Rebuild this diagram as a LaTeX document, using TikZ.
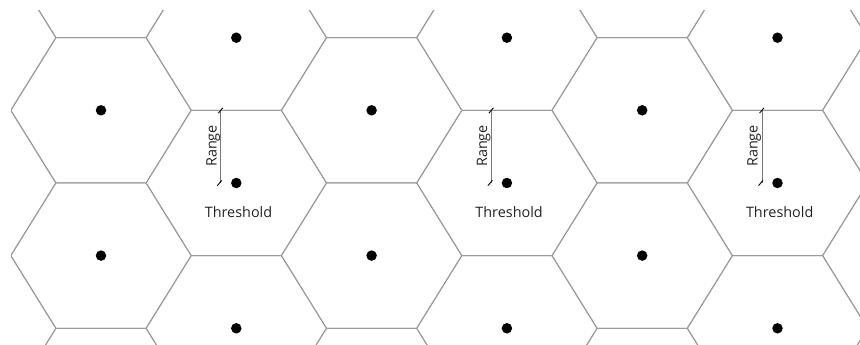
\documentclass[tikz,border=0pt]{standalone}
\usepackage{fontspec}
\setmainfont{Open Sans}
\definecolor{hexgray}{RGB}{155,155,155}
\definecolor{rangegray}{RGB}{120,120,120}
\definecolor{textgray}{RGB}{35,35,35}
\begin{document}
\begin{tikzpicture}[x=1pt,y=-1pt,
  hexline/.style={draw=hexgray, line width=1pt, line join=miter},
  celldot/.style={circle, fill=black, inner sep=0pt, minimum size=10.5pt},
  rangeline/.style={draw=rangegray, line width=0.8pt},
  tickmark/.style={draw=black, line width=0.9pt},
  lbl/.style={font=\fontsize{14.4}{16}\selectfont, text=textgray, inner sep=0pt}]
\useasboundingbox (0,0) rectangle (860,345);
\begin{scope}
  \clip (11,11) rectangle (860,345);
  \foreach \k in {-1,...,6}{
    \pgfmathsetmacro\cx{101+135.3*\k}
    \pgfmathsetmacro\yo{ifthenelse(mod(\k+2,2)==1,37.7,110.3)}
    \foreach \j in {-1,...,2}{
      \pgfmathsetmacro\cy{\yo+145.3*\j}
      \draw[hexline] (\cx-90.2,\cy) -- (\cx-45.1,\cy-72.65) -- (\cx+45.1,\cy-72.65)
        -- (\cx+90.2,\cy) -- (\cx+45.1,\cy+72.65) -- (\cx-45.1,\cy+72.65) -- cycle;
    }
  }
\end{scope}
% dots at cell centres
\foreach \k in {0,2,4}{
  \pgfmathsetmacro\cx{101+135.3*\k}
  \node[celldot] (dot-\k-a) at (\cx,110.3) {};
  \node[celldot] (dot-\k-b) at (\cx,255.6) {};
}
\foreach \k in {1,3,5}{
  \pgfmathsetmacro\cx{101+135.3*\k}
  \node[celldot] (dot-\k-a) at (\cx,37.7) {};
  \node[celldot] (dot-\k-b) at (\cx,183) {};
  \node[celldot] (dot-\k-c) at (\cx,328.3) {};
  % range indicator
  \coordinate (rtop\k) at (\cx-15.5,110.5);
  \coordinate (rbot\k) at (\cx-15.5,183);
  \draw[rangeline] (rtop\k) -- (rbot\k);
  \draw[tickmark] ([shift={(-2.5,2.7)}]rtop\k) -- ([shift={(2,-2.7)}]rtop\k);
  \draw[tickmark] ([shift={(-3.5,2.7)}]rbot\k) -- ([shift={(1,-2.7)}]rbot\k);
  \node[lbl, rotate=90, anchor=base] (range\k) at (\cx-19.8,145.9) {Range};
  \node[lbl, anchor=base] (thr\k) at (\cx+2.2,217.3) {Threshold};
}
\end{tikzpicture}
\end{document}
